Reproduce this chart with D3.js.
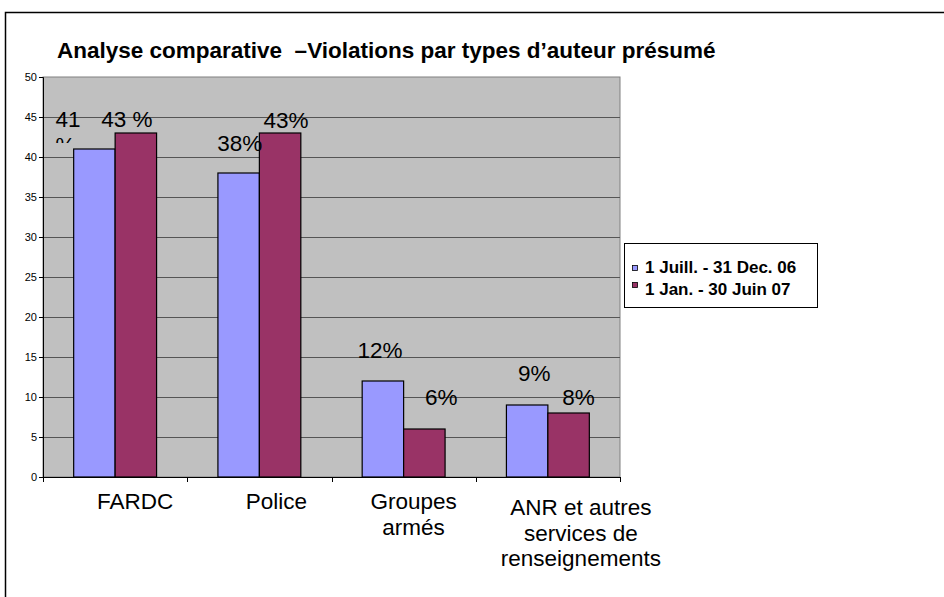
<!DOCTYPE html>
<html>
<head>
<meta charset="utf-8">
<script src="https://cdn.jsdelivr.net/npm/d3@7"></script>
<style>
  body { margin: 0; background: #fff; }
  svg { display: block; font-family: "Liberation Sans", Arial, sans-serif; }
  text { white-space: pre; }
</style>
</head>
<body>
<div id="chart"></div>
<script>
// chart data
var categories = ["FARDC", "Police", "Groupes armés", "ANR et autres services de renseignements"];
var categoryLines = [["FARDC"], ["Police"], ["Groupes", "armés"], ["ANR et autres", "services de", "renseignements"]];
var seriesNames = ["1 Juill. - 31 Dec. 06", "1 Jan. - 30 Juin 07"];
var period1 = [41, 38, 12, 9];
var period2 = [43, 43, 6, 8];
var labels1 = ["41 %", "38%", "12%", "9%"];
var labels2 = ["43 %", "43%", "6%", "8%"];
var yTicks = [0, 5, 10, 15, 20, 25, 30, 35, 40, 45, 50];
var colors = ["#9999FF", "#993366"];

// label nudges as placed in the original (dx from bar centre, lift above bar top)
var labelNudge1 = [[-27, 22], [1, 22], [-3, 23], [7, 24]];
var labelNudge2 = [[-9, 6], [6, 5], [17, 24], [10, 8]];
// category labels sit right of the band centre in the original
var categoryNudge = [20, 17, 10, 33];

var width = 944, height = 597;
var plot = {left: 43, top: 77, right: 620, bottom: 477};

var svg = d3.select("#chart").append("svg")
        .attr("width", width)
        .attr("height", height);

// outer frame
svg.append("rect")
        .attr("x", 5.5).attr("y", 12.5)
        .attr("width", 1000).attr("height", 1000)
        .attr("fill", "none").attr("stroke", "#000").attr("stroke-width", 1.5);

svg.append("text")
        .attr("x", 57).attr("y", 58)
        .attr("font-size", "22.5px").attr("font-weight", "bold")
        .text("Analyse comparative  \u2013Violations par types d\u2019auteur présumé");

var x0 = d3.scaleBand()
        .domain(categories)
        .range([plot.left, plot.right]);
var x1 = d3.scaleBand()
        .domain([0, 1])
        .range([0, x0.bandwidth()])
        .paddingInner(0)
        .paddingOuter(0.74);
var y = d3.scaleLinear()
        .domain([0, 50])
        .range([plot.bottom, plot.top]);

// plot area
svg.append("rect")
        .attr("x", plot.left).attr("y", plot.top)
        .attr("width", plot.right - plot.left).attr("height", plot.bottom - plot.top)
        .attr("fill", "#C0C0C0").attr("stroke", "#808080");

// gridlines
svg.append("g").selectAll("line")
        .data(yTicks.slice(1, -1))
        .enter().append("line")
        .attr("x1", plot.left).attr("x2", plot.right)
        .attr("y1", function (d) { return Math.round(y(d)) + 0.5; })
        .attr("y2", function (d) { return Math.round(y(d)) + 0.5; })
        .attr("stroke", "#555").attr("stroke-width", 1);

// bars
var rows = categories.map(function (c, i) {
        return {cat: c, vals: [period1[i], period2[i]], labels: [labels1[i], labels2[i]],
                nudge: [labelNudge1[i], labelNudge2[i]]};
});
var groups = svg.append("g").selectAll("g")
        .data(rows)
        .enter().append("g")
        .attr("transform", function (d) { return "translate(" + x0(d.cat) + ",0)"; });

groups.selectAll("rect")
        .data(function (d) { return d.vals.map(function (v, k) { return {k: k, v: v}; }); })
        .enter().append("rect")
        .attr("x", function (d) { return x1(d.k); })
        .attr("y", function (d) { return y(d.v); })
        .attr("width", x1.bandwidth())
        .attr("height", function (d) { return y(0) - y(d.v); })
        .attr("fill", function (d) { return colors[d.k]; })
        .attr("stroke", "#000").attr("stroke-width", 1.2);

// axes
var yAxis = d3.axisLeft(y).tickValues(yTicks).tickSize(4).tickPadding(2);
var gy = svg.append("g")
        .attr("transform", "translate(" + plot.left + ",0)")
        .call(yAxis);
gy.select(".domain").attr("stroke", "#000");
gy.selectAll("text").attr("font-size", "11px").attr("font-family", "Liberation Sans, Arial").attr("fill", "#000");

svg.append("line")
        .attr("x1", plot.left).attr("x2", plot.right)
        .attr("y1", plot.bottom + 0.5).attr("y2", plot.bottom + 0.5)
        .attr("stroke", "#000");
svg.append("g").selectAll("line")
        .data(d3.range(categories.length + 1))
        .enter().append("line")
        .attr("x1", function (i) { return Math.round(plot.left + i * x0.step()) + 0.5; })
        .attr("x2", function (i) { return Math.round(plot.left + i * x0.step()) + 0.5; })
        .attr("y1", plot.bottom).attr("y2", plot.bottom + 5)
        .attr("stroke", "#000");

// category labels
svg.append("g").selectAll("text")
        .data(categories)
        .enter().append("text")
        .attr("text-anchor", "middle")
        .attr("font-size", "22.5px")
        .attr("y", function (d, i) { return categoryLines[i].length > 2 ? 515 : 509; })
        .each(function (d, i) {
                var t = d3.select(this);
                var cx = x0(d) + x0.bandwidth() / 2 + categoryNudge[i];
                categoryLines[i].forEach(function (line, j) {
                        t.append("tspan").attr("x", cx).attr("dy", j === 0 ? 0 : 25.5).text(line);
                });
        });

// value labels
svg.append("clipPath").attr("id", "lblclip")
        .append("rect").attr("x", 0).attr("y", 0).attr("width", width).attr("height", y(period1[0]) - 6);

var labelData = [];
rows.forEach(function (r) {
        r.vals.forEach(function (v, k) {
                labelData.push({cat: r.cat, k: k, v: v, label: r.labels[k], nudge: r.nudge[k]});
        });
});
svg.append("g").selectAll("text")
        .data(labelData)
        .enter().append("text")
        .attr("text-anchor", "middle")
        .attr("font-size", "22.5px")
        .each(function (d) {
                var t = d3.select(this);
                var cx = x0(d.cat) + x1(d.k) + x1.bandwidth() / 2 + d.nudge[0];
                var ty = y(d.v) - d.nudge[1];
                if (d.label === "41 %") {
                        // wrapped label, second line hidden behind the bar top
                        t.attr("clip-path", "url(#lblclip)").attr("text-anchor", "start");
                        t.append("tspan").attr("x", cx - 12).attr("y", ty).text("41");
                        t.append("tspan").attr("x", cx - 12).attr("y", ty + 25.5).text("%");
                } else {
                        t.attr("x", cx).attr("y", ty).text(d.label);
                }
        });

// legend
var lg = svg.append("g").attr("transform", "translate(624,243)");
lg.append("rect")
        .attr("x", 0.5).attr("y", 0.5).attr("width", 193).attr("height", 64)
        .attr("fill", "#fff").attr("stroke", "#000");
seriesNames.forEach(function (name, k) {
        lg.append("rect")
                .attr("x", 8.5).attr("y", k === 0 ? 22.5 : 39.5)
                .attr("width", 5).attr("height", 5)
                .attr("fill", colors[k]).attr("stroke", "#000").attr("stroke-width", 0.8);
        lg.append("text")
                .attr("x", 21).attr("y", 30 + k * 22)
                .attr("font-size", "17px").attr("font-weight", "bold")
                .text(name);
});
</script>
</body>
</html>
